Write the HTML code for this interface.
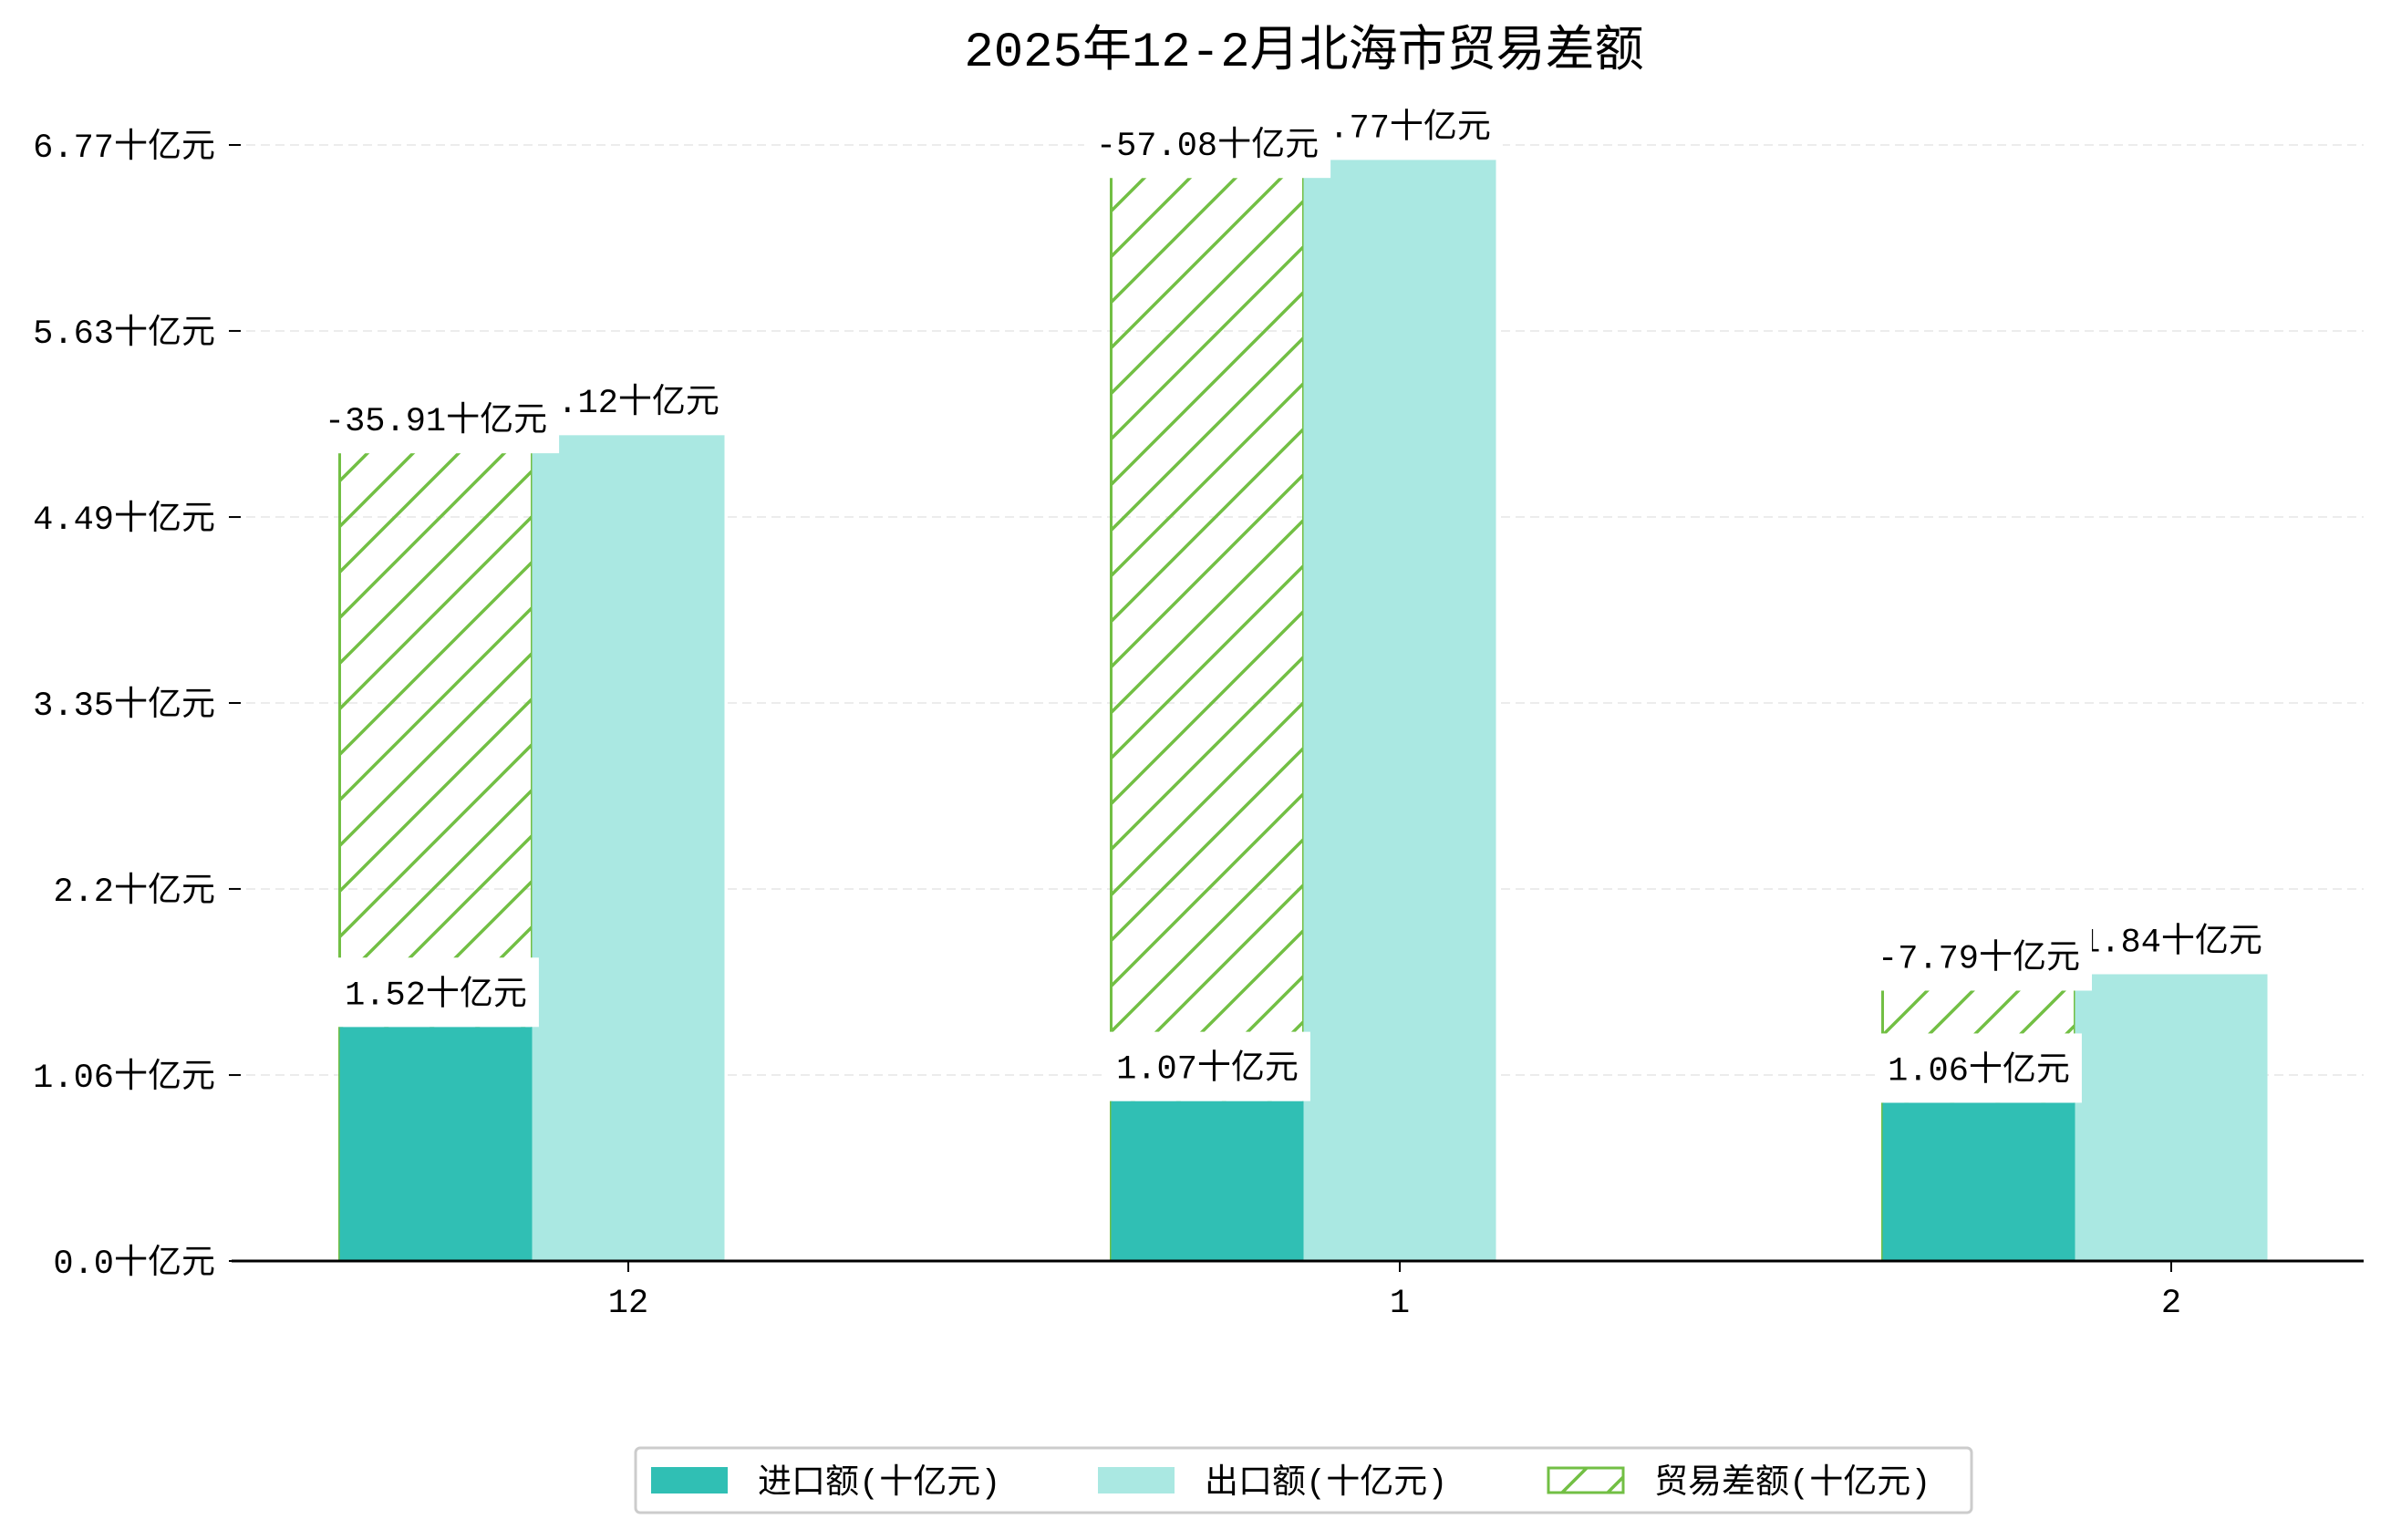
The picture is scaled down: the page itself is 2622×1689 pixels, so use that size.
<!DOCTYPE html>
<html><head><meta charset="utf-8">
<style>
html,body{margin:0;padding:0;background:#fff;}
svg{display:block;font-family:"Liberation Mono","Noto Sans CJK SC","WenQuanYi Zen Hei",monospace;}
</style></head>
<body>
<svg id="chart" width="2622" height="1689" viewBox="0 0 2622 1689" xmlns="http://www.w3.org/2000/svg">
<defs>
<pattern id="hatch" patternUnits="userSpaceOnUse" width="50" height="50">
<line x1="0" y1="50" x2="50" y2="0" stroke="#72bf44" stroke-width="3.5"/>
<line x1="-10" y1="10" x2="10" y2="-10" stroke="#72bf44" stroke-width="3.5"/>
<line x1="40" y1="60" x2="60" y2="40" stroke="#72bf44" stroke-width="3.5"/>
</pattern>
</defs>
<text x="1430" y="72" font-size="54" text-anchor="middle" fill="#000">2025年12-2月北海市贸易差额</text>
<g id="grid"></g>
<g id="bars"></g>
<g id="labels"></g>
<g id="axes"></g>
<g>
<rect x="697" y="1588" width="1465" height="71" rx="5" fill="#fff" stroke="#ccc" stroke-width="3"/>
<rect x="714" y="1609" width="84" height="29" fill="#30bfb4"/>
<text x="831" y="1637" font-size="37">进口额(十亿元)</text>
<rect x="1204" y="1609" width="84" height="29" fill="#aae8e2"/>
<text x="1321" y="1637" font-size="37">出口额(十亿元)</text>
<rect x="1698" y="1610" width="82" height="27" fill="url(#hatch)" stroke="#72bf44" stroke-width="3"/>
<text x="1814" y="1637" font-size="37">贸易差额(十亿元)</text>
</g>
</svg>
<script>
const categories = ["12", "1", "2"];
const importValues = [1.42, 0.97, 0.96];
const exportValues = [5.01, 6.68, 1.74];
const balanceValues = [4.90, 6.57, 1.64];
const importLabels = ["1.52", "1.07", "1.06"];
const exportLabels = ["5.12", "6.77", "1.84"];
const balanceLabels = ["-35.91", "-57.08", "-7.79"];
const yTickValues = [0, 1.128, 2.257, 3.385, 4.513, 5.642, 6.77];
const yTickLabels = ["0.0", "1.06", "2.2", "3.35", "4.49", "5.63", "6.77"];

const NS = "http://www.w3.org/2000/svg";
const plotL = 254, plotR = 2592, baseY = 1383, topY = 159, topV = 6.77;
const barW = 211;
function yScale(v){ return baseY - v * (baseY - topY) / topV; }
function xScale(i){ return 689 + i * 846; }
function mk(tag, attrs, parent){
  const e = document.createElementNS(NS, tag);
  for (const k in attrs) e.setAttribute(k, attrs[k]);
  parent.appendChild(e);
  return e;
}
const grid = document.getElementById("grid");
const bars = document.getElementById("bars");
const labels = document.getElementById("labels");
const axes = document.getElementById("axes");

yTickValues.forEach((v, i) => {
  const y = yScale(v);
  if (i > 0) {
    const g = mk("line", {x1: plotL, x2: plotR, y1: y, y2: y, stroke: "#ececec", "stroke-width": 2, "stroke-dasharray": "10,6"}, grid);
    
    
  }
  const t = mk("line", {x1: 251, x2: 264, y1: y, y2: y, stroke: "#000", "stroke-width": 2}, axes);
  
  
  const tx = mk("text", {x: 236, y: y + 13, "font-size": 37, "text-anchor": "end"}, axes);
  tx.textContent = yTickLabels[i] + "十亿元";
  
  
});

const bl = mk("line", {x1: plotL, x2: plotR, y1: baseY, y2: baseY, stroke: "#000", "stroke-width": 3}, axes);



function boxLabel(text, cx, bottom, name){
  const g = mk("g", {}, labels);
  
  
  const r = mk("rect", {fill: "#fff"}, g);
  const t = mk("text", {x: cx, y: bottom - 25, "font-size": 37, "text-anchor": "middle"}, g);
  t.textContent = text + "十亿元";
  const bb = t.getBBox();
  r.setAttribute("x", bb.x - 13);
  r.setAttribute("width", bb.width + 26);
  r.setAttribute("y", bottom - 76);
  r.setAttribute("height", 76);
}

categories.forEach((c, i) => {
  const cx = xScale(i);
  const ix = cx - 1.5 * barW, ex = cx - 0.5 * barW;
  const hy = yScale(balanceValues[i]);
  const hb = mk("rect", {x: ix, y: hy, width: barW, height: baseY - hy, fill: "url(#hatch)"}, bars);
  
  
  const hl = mk("path", {d: `M${ix},${hy}V${baseY}M${ix + barW},${hy}V${baseY}`, stroke: "#72bf44", "stroke-width": 3, fill: "none"}, bars);
  
  
  const ib = mk("rect", {x: ix, y: yScale(importValues[i]), width: barW, height: baseY - yScale(importValues[i]), fill: "#30bfb4"}, bars);
  
  
  const eb = mk("rect", {x: ex, y: yScale(exportValues[i]), width: barW, height: baseY - yScale(exportValues[i]), fill: "#aae8e2"}, bars);
  
  
  const tk = mk("line", {x1: cx, x2: cx, y1: baseY, y2: baseY + 12, stroke: "#000", "stroke-width": 2}, axes);
  
  
  const xt = mk("text", {x: cx, y: 1439, "font-size": 37, "text-anchor": "middle"}, axes);
  xt.textContent = c;
  
  
});
categories.forEach((c, i) => {
  boxLabel(exportLabels[i], xScale(i), yScale(exportValues[i]), 'export-value-label');
});
categories.forEach((c, i) => {
  boxLabel(balanceLabels[i], xScale(i) - barW, yScale(balanceValues[i]), 'balance-value-label');
});
categories.forEach((c, i) => {
  boxLabel(importLabels[i], xScale(i) - barW, yScale(importValues[i]), 'import-value-label');
});
</script>
</body></html>
